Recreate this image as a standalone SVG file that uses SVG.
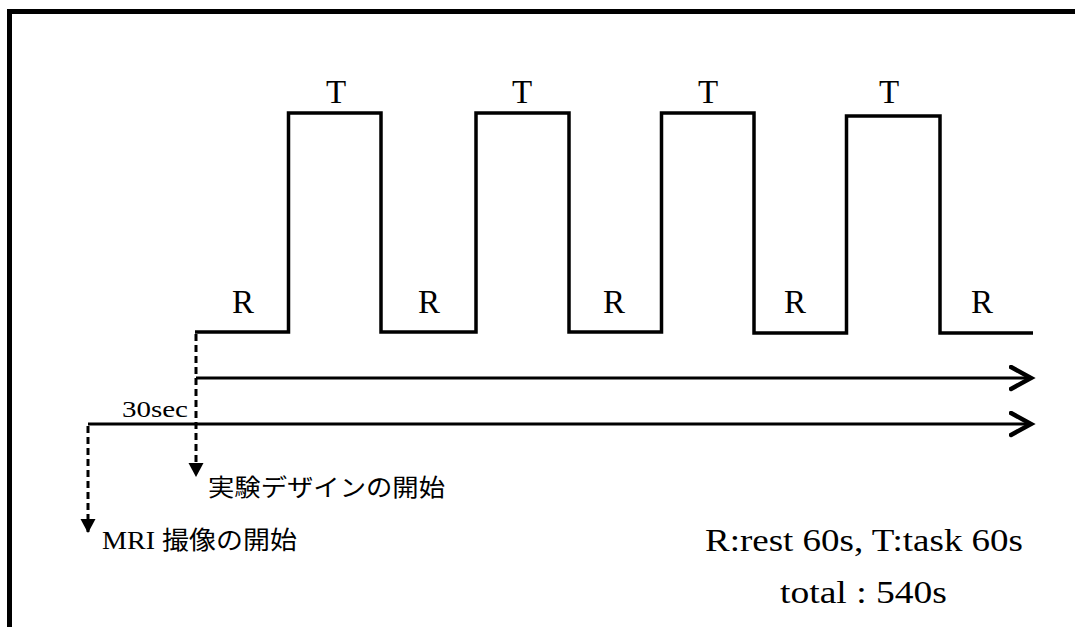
<svg xmlns="http://www.w3.org/2000/svg" width="1075" height="627" viewBox="0 0 1075 627">
<style>
.lbl{font-family:"Liberation Serif","Noto Sans CJK JP",serif;font-size:33px;fill:#000;text-anchor:middle}
.jp{font-family:"Liberation Serif","Noto Sans CJK JP",serif;font-size:24px;fill:#000}
.note{font-family:"Liberation Serif",serif;font-size:31px;fill:#000}
.wave{fill:none;stroke:#000;stroke-width:3.5;stroke-linejoin:miter}
.axis{fill:none;stroke:#000;stroke-width:3}
.dash{fill:none;stroke:#000;stroke-width:3;stroke-dasharray:7 4}
</style>
<defs>
<marker id="chev" markerUnits="userSpaceOnUse" markerWidth="30" markerHeight="30" refX="22" refY="13" orient="auto">
<path d="M2,2 L22,13 L2,24" fill="none" stroke="#000" stroke-width="4.5" stroke-linecap="round" stroke-linejoin="miter"/>
</marker>
<marker id="tri" markerUnits="userSpaceOnUse" markerWidth="20" markerHeight="20" refX="14" refY="8" orient="auto">
<path d="M0,0.5 L14,8 L0,15.5 Z" fill="#000"/>
</marker>
</defs>
<rect width="1075" height="627" fill="#fff"/>
<path d="M9.5,627 V11.5 H1075" fill="none" stroke="#000" stroke-width="5"/>
<g id="waveform">
<path class="wave" d="M195,332 H288.5 V113 H381 V332 H476 V113 H569 V332 H661.5 V113 H754 V333 H846.5 V116 H940 V333 H1033"/>
</g>
<g id="labels-T">
<text class="lbl" x="336" y="103">T</text>
<text class="lbl" x="522" y="103">T</text>
<text class="lbl" x="708" y="103">T</text>
<text class="lbl" x="889" y="103">T</text>
</g>
<g id="labels-R">
<text class="lbl" x="243" y="313">R</text>
<text class="lbl" x="429" y="313">R</text>
<text class="lbl" x="614" y="313">R</text>
<text class="lbl" x="795" y="313">R</text>
<text class="lbl" x="982" y="313">R</text>
</g>
<g id="connectors">
<line class="axis" x1="196" y1="378" x2="1031" y2="378" marker-end="url(#chev)"/>
<line class="axis" x1="88" y1="424" x2="1031" y2="424" marker-end="url(#chev)"/>
<line class="dash" x1="196" y1="334" x2="196" y2="477" marker-end="url(#tri)"/>
<line class="dash" x1="88" y1="426" x2="88" y2="533" marker-end="url(#tri)"/>
</g>
<g id="label-30sec">
<text class="jp" x="122" y="417" font-size="27" textLength="66" lengthAdjust="spacingAndGlyphs">30sec</text>
</g>
<g id="node-design-start">
<text class="jp" x="208" y="496" textLength="237" lengthAdjust="spacingAndGlyphs">実験デザインの開始</text>
</g>
<g id="node-mri-start">
<text class="jp" x="102" y="549" textLength="195" lengthAdjust="spacingAndGlyphs"><tspan font-size="26">MRI </tspan><tspan font-size="25">撮像の開始</tspan></text>
</g>
<g id="legend">
<text class="note" x="705" y="551" textLength="318" lengthAdjust="spacingAndGlyphs">R:rest 60s, T:task 60s</text>
<text class="note" x="780" y="603" textLength="167" lengthAdjust="spacingAndGlyphs">total : 540s</text>
</g>
</svg>
